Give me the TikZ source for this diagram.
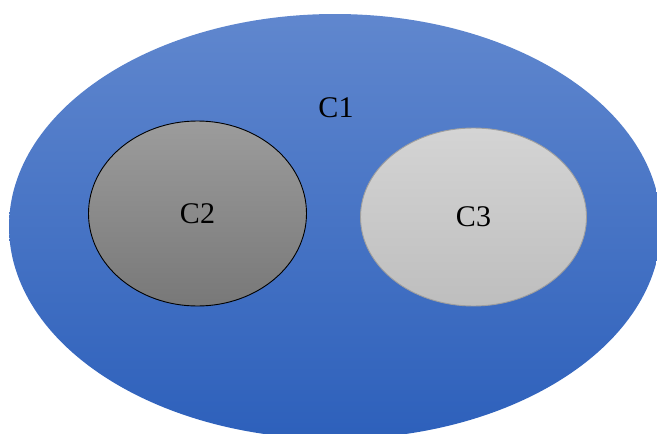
\documentclass[tikz,border=0pt]{standalone}
\usepackage{fontspec}
\setmainfont{Liberation Serif}
\usetikzlibrary{shapes.geometric}
\definecolor{blueTop}{HTML}{6087CE}
\definecolor{blueBot}{HTML}{2D60BB}
\definecolor{darkTop}{HTML}{9C9C9C}
\definecolor{darkBot}{HTML}{787878}
\definecolor{lightTop}{HTML}{D4D4D4}
\definecolor{lightBot}{HTML}{BEBEBE}
\tikzset{
  set/.style={ellipse, inner sep=0pt, outer sep=0pt},
  lbl/.style={font=\fontsize{30}{32}\selectfont, text=black},
}
\begin{document}
\begin{tikzpicture}[x=1pt,y=-1pt]
\useasboundingbox (0,0) rectangle (657,434);
\clip (0,0) rectangle (657,434);
\node[set, minimum width=652pt, minimum height=425pt, top color=blueTop, bottom color=blueBot, draw=none] (c1) at (335,226.5) {};
\node[lbl] (l1) at (336,108) {C1};
\node[set, minimum width=218pt, minimum height=185pt, top color=darkTop, bottom color=darkBot, draw=black, line width=0.9pt] (c2) at (197.5,213.5) {};
\node[lbl] at (c2) {C2};
\node[set, minimum width=226pt, minimum height=178pt, top color=lightTop, bottom color=lightBot, draw=gray!75, line width=0.9pt] (c3) at (473.5,217) {};
\node[lbl] at (c3) {C3};
\end{tikzpicture}
\end{document}
